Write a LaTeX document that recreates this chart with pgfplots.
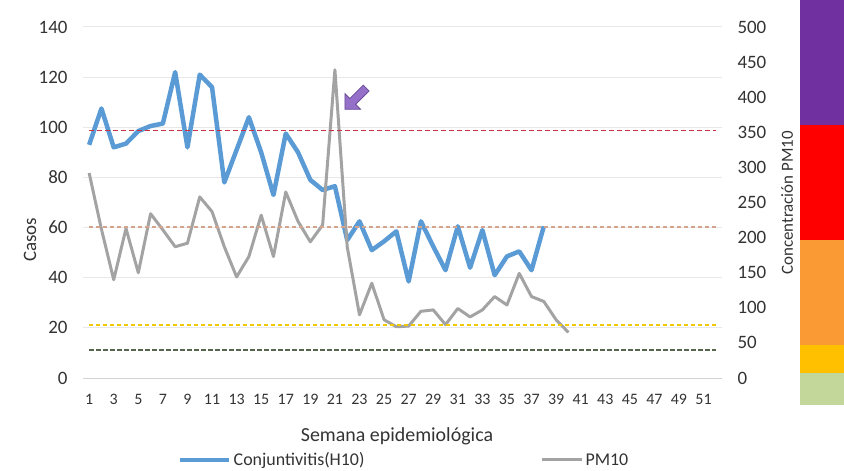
\documentclass[border=0pt]{standalone}
\usepackage{fontspec}
\setmainfont{Carlito}
\usepackage{pgfplots}
\pgfplotsset{compat=1.18}
\usetikzlibrary{shapes.arrows}

\definecolor{cblue}{HTML}{5B9BD5}
\definecolor{cgray}{HTML}{A3A3A3}
\definecolor{cgrid}{HTML}{E8E8E8}
\definecolor{ctext}{HTML}{333333}
\definecolor{dred}{HTML}{CC3040}
\definecolor{dbrown}{HTML}{D4A48C}
\definecolor{dyellow}{HTML}{F2C800}
\definecolor{dgreen}{HTML}{56664C}
\definecolor{bpurple}{HTML}{7030A0}
\definecolor{bred}{HTML}{FF0000}
\definecolor{borange}{HTML}{F99A35}
\definecolor{byellow}{HTML}{FFC000}
\definecolor{bgreen}{HTML}{C4D79B}
\definecolor{apurple}{HTML}{9570C8}
\definecolor{apurpled}{HTML}{6B4C9A}

\pgfplotsset{
    longleg/.style={legend image code/.code={\draw[##1] (0bp,0bp) -- (49bp,0bp);}},
    shortleg/.style={legend image code/.code={\draw[##1] (0bp,0bp) -- (40bp,0bp);}},
}

% casos de conjuntivitis por semana
\pgfplotstableread{
sem casos
1 93
2 107.5
3 92
4 93.5
5 98.5
6 100.5
7 101.5
8 122
9 92
10 121
11 116
12 78
13 91
14 104
15 90
16 73
17 97.5
18 90
19 79
20 75
21 76.5
22 55
23 62.5
24 51
25 54.5
26 58.5
27 38.5
28 62.5
29 52.5
30 43
31 60.5
32 44
33 59
34 41
35 48.5
36 50.5
37 43
38 60.5
}\casos

% concentracion PM10 (eje derecho)
\pgfplotstableread{
sem pm
1 292
2 212
3 140
4 213
5 150
6 234
7 211
8 187
9 192
10 258
11 237
12 187
13 144
14 173
15 232
16 173
17 265
18 223
19 194
20 218
21 439
22 187
23 90
24 135
25 83
26 73
27 74
28 95
29 97
30 76
31 99
32 87
33 97
34 116
35 104
36 149
37 116
38 109
39 83
40 65
}\pmdiez

\begin{document}
\begin{tikzpicture}[font=\fontsize{16}{18}\selectfont]
\useasboundingbox (-83bp,-93bp) rectangle (761bp,378bp);

\begin{axis}[
    scale only axis,
    width=639bp, height=351bp,
    xmin=0.5, xmax=52.5,
    ymin=0, ymax=140,
    axis x line*=bottom,
    axis y line*=left,
    x axis line style={cgrid!80!gray, line width=1bp},
    y axis line style={draw=none},
    xtick={1,3,...,51},
    ytick={0,20,...,140},
    ymajorgrids,
    grid style={cgrid, line width=1bp},
    major tick length=0pt,
    /pgf/number format/assume math mode=true,
    xticklabel style={font=\fontsize{16}{18}\selectfont, text=ctext, yshift=-13bp},
    yticklabel style={font=\fontsize{19}{21}\selectfont, text=ctext, xshift=-12bp},
    legend columns=2,
    legend style={at={(0.1487,-0.2336)}, anchor=west, draw=none, fill=none,
        inner sep=0pt, font=\fontsize{18}{20}\selectfont, text=ctext,
        /tikz/every even column/.append style={column sep=174bp}},
]
\addplot[cblue, line width=4.5bp, line join=round, longleg]
    table[x=sem, y=casos] {\casos};
\addlegendentry{Conjuntivitis(H10)}
\addlegendimage{cgray, line width=3bp, shortleg}
\addlegendentry{PM10}
\node[single arrow, fill=apurple, draw=apurpled, line width=0.8bp,
    minimum height=30bp, minimum width=22bp, single arrow head extend=4bp,
    inner sep=2bp, rotate=225] at (axis cs:22.8,112) {};
\end{axis}

\begin{axis}[
    scale only axis,
    width=639bp, height=351bp,
    xmin=0.5, xmax=52.5,
    ymin=0, ymax=500,
    axis x line=none,
    axis y line*=right,
    y axis line style={draw=none},
    ytick={0,50,...,500},
    major tick length=0pt,
    /pgf/number format/assume math mode=true,
    yticklabel style={font=\fontsize{19}{21}\selectfont, text=ctext, xshift=12bp},
]
\addplot[cgray, line width=3bp, line join=round]
    table[x=sem, y=pm] {\pmdiez};
% niveles de referencia
\addplot[dred, line width=1.3bp, dash pattern=on 5bp off 3bp] coordinates {(1,353) (52,353)};
\addplot[dbrown, line width=1.6bp, dash pattern=on 4bp off 3bp] coordinates {(1,215) (52,215)};
\addplot[dyellow, line width=2bp, dash pattern=on 4bp off 3bp] coordinates {(1,75) (52,75)};
\addplot[dgreen, line width=1.6bp, dash pattern=on 5bp off 2bp] coordinates {(1,40) (52,40)};
\end{axis}

% titulos de ejes
\node[rotate=90, text=ctext, font=\fontsize{19}{21}\selectfont] at (-53bp,138bp) {Casos};
\node[rotate=90, text=ctext, font=\fontsize{17}{19}\selectfont] at (704bp,175bp) {Concentración PM10};
\node[text=ctext, font=\fontsize{20}{22}\selectfont] at (314bp,-58bp) {Semana epidemiológica};

% barra de colores
\fill[bpurple] (717bp,253bp) rectangle (761bp,378bp);
\fill[bred] (717bp,138bp) rectangle (761bp,253bp);
\fill[borange] (717bp,33bp) rectangle (761bp,138bp);
\fill[byellow] (717bp,5bp) rectangle (761bp,33bp);
\fill[bgreen] (717bp,-27bp) rectangle (761bp,5bp);
\end{tikzpicture}
\end{document}
